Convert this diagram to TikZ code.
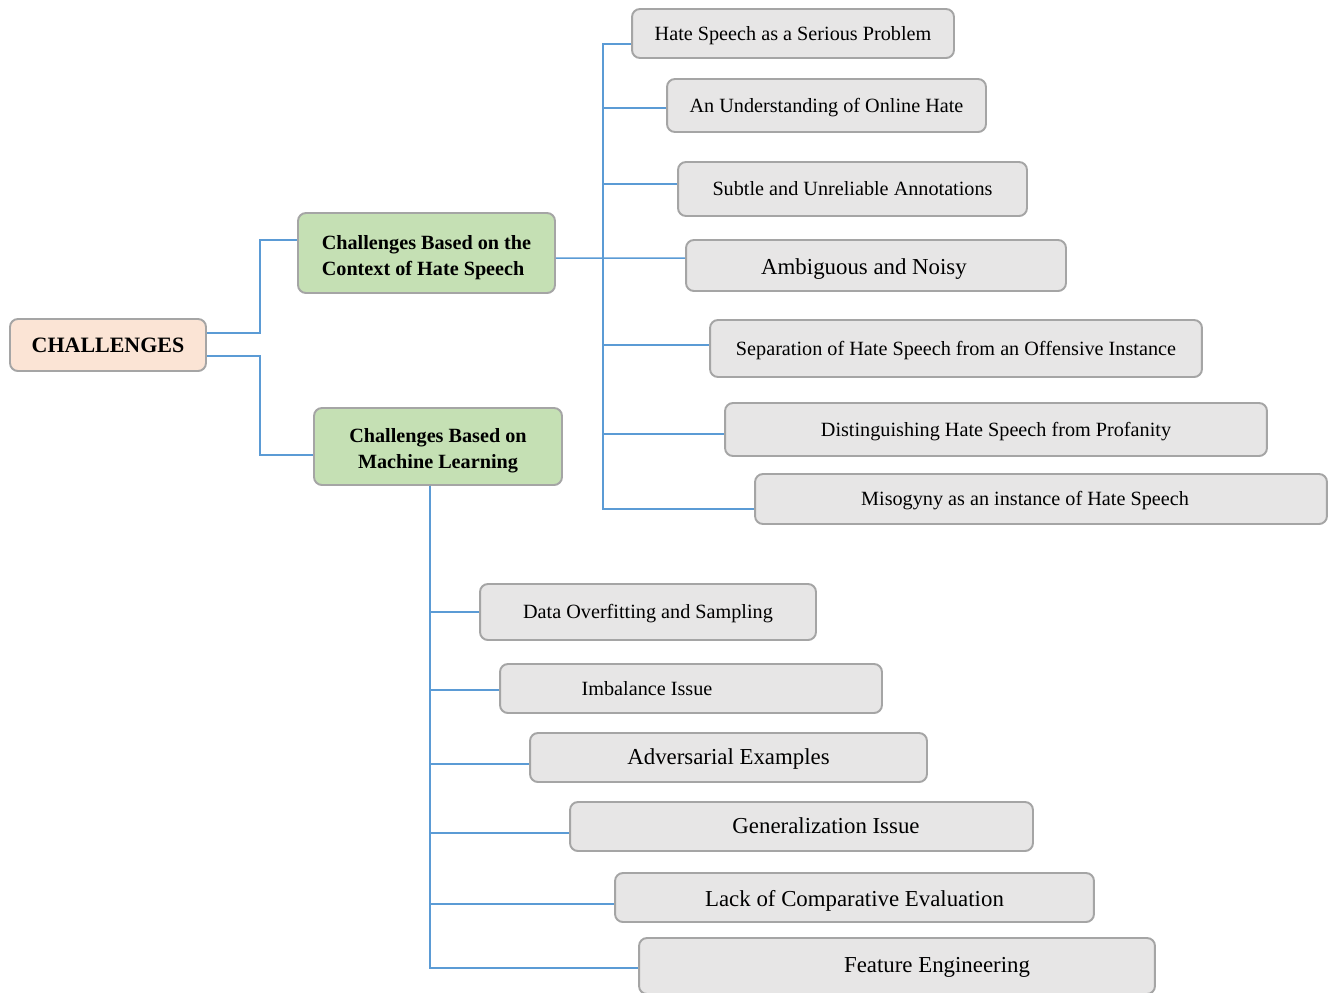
\documentclass[tikz,border=0pt]{standalone}
\usepackage{fontspec}
\setmainfont{Liberation Serif}
\definecolor{RootFill}{RGB}{251,228,213}
\definecolor{BranchFill}{RGB}{197,224,180}
\definecolor{LeafFill}{RGB}{231,230,230}
\definecolor{BoxBorder}{RGB}{165,165,165}
\definecolor{LinkBlue}{RGB}{91,155,213}
\usetikzlibrary{positioning}
\tikzset{
  box/.style={draw=BoxBorder, line width=1.1pt, rounded corners=4.5pt, inner sep=0pt},
  leaf/.style={box, fill=LeafFill, font=\fontsize{11.5}{13}\selectfont, text height=1em, text depth=0.25em},
  bigleaf/.style={box, fill=LeafFill, font=\fontsize{13}{15}\selectfont},
  bigtext/.style={font=\fontsize{13}{15}\selectfont, text height=1em, text depth=0.25em},
  smalltext/.style={font=\fontsize{11.5}{13}\selectfont, text height=1em, text depth=0.25em},
  branch/.style={box, fill=BranchFill, font=\bfseries\fontsize{11.5}{14.5}\selectfont},
  link/.style={draw=LinkBlue, line width=0.85pt}
}

\begin{document}
\begin{tikzpicture}[x=0.02cm, y=-0.02cm]
  \useasboundingbox (0,0) rectangle (1332,992);
  % left part
  \node[box, fill=RootFill, minimum width=3.92cm, minimum height=1.04cm, font=\bfseries\fontsize{12.5}{14}\selectfont, text height=1em, text depth=0.2em] (root) at (108,345) {CHALLENGES};
  \node[branch, minimum width=5.14cm, minimum height=1.6cm, align=left] (ctx) at (426.5,253) {\rule{0pt}{13pt}Challenges Based on the\\Context of Hate Speech};
  \node[branch, minimum width=4.96cm, minimum height=1.54cm, align=center] (ml) at (438,446.5) {\rule{0pt}{13pt}Challenges Based on\\Machine Learning};
  % context of hate speech
  \node[leaf, minimum width=6.44cm, minimum height=0.98cm] (hate) at (793,33.5) {Hate Speech as a Serious Problem};
  \node[leaf, minimum width=6.38cm, minimum height=1.06cm] (online) at (826.5,105.5) {An Understanding of Online Hate};
  \node[leaf, minimum width=6.98cm, minimum height=1.08cm] (subtle) at (852.5,189) {Subtle and Unreliable Annotations};
  \node[bigleaf, minimum width=7.6cm, minimum height=1.02cm, label={[bigtext, xshift=-0.24cm, yshift=-0.05cm]center:Ambiguous and Noisy}] (noisy) at (876,265.5) {};
  \node[leaf, minimum width=9.84cm, minimum height=1.14cm] (offensive) at (956,348.5) {Separation of Hate Speech from an Offensive Instance};
  \node[leaf, minimum width=10.84cm, minimum height=1.06cm] (profanity) at (996,429.5) {Distinguishing Hate Speech from Profanity};
  \node[leaf, minimum width=11.44cm, minimum height=1.0cm, label={[smalltext, xshift=-0.32cm]center:Misogyny as an instance of Hate Speech}] (misogyny) at (1041,499) {};
  % machine learning
  \node[leaf, minimum width=6.72cm, minimum height=1.12cm] (overfit) at (648,612) {Data Overfitting and Sampling};
  \node[leaf, minimum width=7.64cm, minimum height=0.98cm, label={[smalltext, xshift=-0.88cm]center:Imbalance Issue}] (imbalance) at (691,688.5) {};
  \node[bigleaf, minimum width=7.94cm, minimum height=0.98cm, label={[bigtext]center:Adversarial Examples}] (adversarial) at (728.5,757.5) {};
  \node[bigleaf, minimum width=9.26cm, minimum height=0.98cm, label={[bigtext, xshift=0.49cm]center:Generalization Issue}] (general) at (801.5,826.5) {};
  \node[bigleaf, minimum width=9.58cm, minimum height=0.98cm, label={[bigtext, yshift=-0.05cm]center:Lack of Comparative Evaluation}] (compare) at (854.5,897.5) {};
  \node[bigleaf, minimum width=10.32cm, minimum height=1.12cm, label={[bigtext, xshift=0.8cm]center:Feature Engineering}] (feature) at (897,966) {};

  \draw[link] ([yshift=0.24cm]root.east) -- ++(1.06cm,0) |- ([yshift=0.26cm]ctx.west);
  \draw[link] ([yshift=-0.22cm]root.east) -- ++(1.06cm,0) |- ([yshift=-0.17cm]ml.west);

  \coordinate (ctxbus) at (603,258);
  \draw[link] ([yshift=-0.1cm]ctx.east) -- ([yshift=0.15cm]noisy.west);
  \draw[link] (ctxbus) |- ([yshift=-0.21cm]hate.west);
  \draw[link] (ctxbus) |- ([yshift=-0.05cm]online.west);
  \draw[link] (ctxbus) |- ([yshift=0.1cm]subtle.west);
  \draw[link] (ctxbus) |- ([yshift=0.07cm]offensive.west);
  \draw[link] (ctxbus) |- ([yshift=-0.09cm]profanity.west);
  \draw[link] (ctxbus) |- ([yshift=-0.2cm]misogyny.west);

  \coordinate (mlbus) at ([xshift=-0.16cm]ml.south);
  \draw[link] (mlbus) |- (overfit.west);
  \draw[link] (mlbus) |- ([yshift=-0.03cm]imbalance.west);
  \draw[link] (mlbus) |- ([yshift=-0.13cm]adversarial.west);
  \draw[link] (mlbus) |- ([yshift=-0.13cm]general.west);
  \draw[link] (mlbus) |- ([yshift=-0.13cm]compare.west);
  \draw[link] (mlbus) |- ([yshift=-0.04cm]feature.west);
\end{tikzpicture}
\end{document}
